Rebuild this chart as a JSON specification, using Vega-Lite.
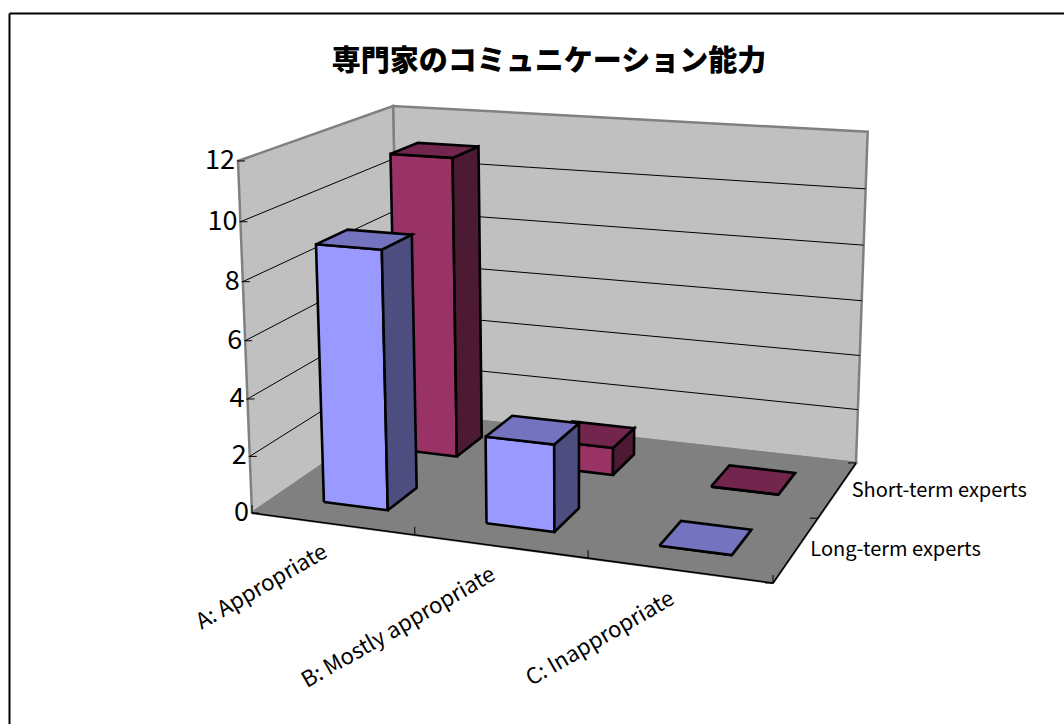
{
  "$schema": "https://vega.github.io/schema/vega-lite/v6.json",
  "width": 1055,
  "height": 711,
  "padding": {"left": 9, "top": 13, "right": 0, "bottom": 0},
  "autosize": {"type": "none"},
  "background": "white",
  "config": {"view": {"stroke": null}},
  "title": {
    "text": "専門家のコミュニケーション能力",
    "font": "Noto Sans CJK JP",
    "fontSize": 29,
    "fontWeight": 900,
    "color": "black",
    "anchor": "middle",
    "offset": -64,
    "dx": 12.5
  },
  "datasets": {
    "bars": [
      {"category": "A: Appropriate", "series": "Short-term experts", "value": 11},
      {"category": "B: Mostly appropriate", "series": "Short-term experts", "value": 1},
      {"category": "C: Inappropriate", "series": "Short-term experts", "value": 0},
      {"category": "A: Appropriate", "series": "Long-term experts", "value": 9},
      {"category": "B: Mostly appropriate", "series": "Long-term experts", "value": 3},
      {"category": "C: Inappropriate", "series": "Long-term experts", "value": 0}
    ],
    "planes": [{"plane": "back"}, {"plane": "left"}, {"plane": "floor"}],
    "valueTicks": [{"tick": 0}, {"tick": 2}, {"tick": 4}, {"tick": 6}, {"tick": 8}, {"tick": 10}, {"tick": 12}],
    "categoryBoundaries": [{"b": 0}, {"b": 1}, {"b": 2}, {"b": 3}],
    "seriesBoundaries": [{"b": 0}, {"b": 1}, {"b": 2}],
    "categories": [
      {"category": "A: Appropriate", "i": 0},
      {"category": "B: Mostly appropriate", "i": 1},
      {"category": "C: Inappropriate", "i": 2}
    ],
    "seriesNames": [
      {"series": "Long-term experts", "i": 0},
      {"series": "Short-term experts", "i": 1}
    ],
    "floorEdge": [
      {"k": 0, "pu": 0, "pt": 0},
      {"k": 1, "pu": 1, "pt": 0},
      {"k": 2, "pu": 1, "pt": 1}
    ]
  },
  "encoding": {
    "x": {
      "field": "sx",
      "type": "quantitative",
      "scale": {"domain": [9, 1064], "nice": false, "zero": false},
      "axis": {"orient": "top", "title": null, "labels": false, "ticks": false, "grid": false, "domainColor": "black", "domainWidth": 2}
    },
    "y": {
      "field": "sy",
      "type": "quantitative",
      "scale": {"domain": [724, 13], "nice": false, "zero": false},
      "axis": {"orient": "left", "title": null, "labels": false, "ticks": false, "grid": false, "domainColor": "black", "domainWidth": 2}
    }
  },
  "resolve": {"scale": {"fill": "independent"}},
  "layer": [
    {
      "data": {"name": "planes"},
      "transform": [
        {"calculate": "[0,1,2,3,4]", "as": "corner"},
        {"flatten": ["corner"]},
        {"calculate": "datum.corner % 4", "as": "k"},
        {"calculate": "datum.plane === 'back' ? ((datum.k === 1 || datum.k === 2) ? 1 : 0) : datum.plane === 'left' ? 0 : ((datum.k === 1 || datum.k === 2) ? 1 : 0)", "as": "pu"},
        {"calculate": "datum.plane === 'back' ? 1 : datum.plane === 'left' ? ((datum.k === 1 || datum.k === 2) ? 1 : 0) : (datum.k >= 2 ? 1 : 0)", "as": "pt"},
        {"calculate": "datum.plane === 'floor' ? 0 : (datum.k >= 2 ? 1 : 0)", "as": "ph"},
        {"calculate": "1 - 0.0912*datum.pu + 0.1579*datum.pt - 0.042*datum.ph", "as": "w"},
        {"calculate": "(252 + 450.5*datum.pu + 210.6*datum.pt - 24*datum.ph) / datum.w", "as": "sx"},
        {"calculate": "(513 + 16.8*datum.pu - 35.95*datum.pt - 358.8*datum.ph) / datum.w", "as": "sy"}
      ],
      "mark": {"type": "line", "stroke": "#808080", "strokeWidth": 2.5, "strokeJoin": "miter", "clip": false},
      "encoding": {
        "detail": {"field": "plane"},
        "order": {"field": "corner", "type": "quantitative"},
        "fill": {
          "field": "plane",
          "type": "nominal",
          "scale": {"domain": ["back", "left", "floor"], "range": ["#C0C0C0", "#C0C0C0", "#808080"]},
          "legend": null
        }
      }
    },
    {
      "data": {"name": "valueTicks"},
      "transform": [
        {"filter": "datum.tick > 0 && datum.tick < 12"},
        {"calculate": "[0,1,2]", "as": "corner"},
        {"flatten": ["corner"]},
        {"calculate": "datum.corner === 2 ? 1 : 0", "as": "pu"},
        {"calculate": "datum.corner === 0 ? 0 : 1", "as": "pt"},
        {"calculate": "datum.tick / 12", "as": "ph"},
        {"calculate": "1 - 0.0912*datum.pu + 0.1579*datum.pt - 0.042*datum.ph", "as": "w"},
        {"calculate": "(252 + 450.5*datum.pu + 210.6*datum.pt - 24*datum.ph) / datum.w", "as": "sx"},
        {"calculate": "(513 + 16.8*datum.pu - 35.95*datum.pt - 358.8*datum.ph) / datum.w", "as": "sy"}
      ],
      "mark": {"type": "line", "stroke": "black", "strokeWidth": 1},
      "encoding": {
        "detail": {"field": "tick"},
        "order": {"field": "corner", "type": "quantitative"}
      }
    },
    {
      "data": {"name": "floorEdge"},
      "transform": [
        {"calculate": "1 - 0.0912*datum.pu + 0.1579*datum.pt", "as": "w"},
        {"calculate": "(252 + 450.5*datum.pu + 210.6*datum.pt) / datum.w", "as": "sx"},
        {"calculate": "(513 + 16.8*datum.pu - 35.95*datum.pt) / datum.w", "as": "sy"}
      ],
      "mark": {"type": "line", "stroke": "black", "strokeWidth": 1.5},
      "encoding": {"order": {"field": "k", "type": "quantitative"}}
    },
    {
      "data": {"name": "bars"},
      "transform": [
        {"calculate": "indexof(['A: Appropriate','B: Mostly appropriate','C: Inappropriate'], datum.category)", "as": "ci"},
        {"calculate": "indexof(['Long-term experts','Short-term experts'], datum.series)", "as": "si"},
        {"calculate": "['front','side','top']", "as": "face"},
        {"flatten": ["face"]},
        {"calculate": "[0,1,2,3,4]", "as": "corner"},
        {"flatten": ["corner"]},
        {"calculate": "datum.corner % 4", "as": "k"},
        {"calculate": "(datum.ci + 0.3) / 3", "as": "u0"},
        {"calculate": "(datum.ci + 0.7) / 3", "as": "u1"},
        {"calculate": "(datum.si + 0.3) / 2", "as": "t0"},
        {"calculate": "(datum.si + 0.7) / 2", "as": "t1"},
        {"calculate": "datum.face === 'side' ? datum.u1 : ((datum.k === 0 || datum.k === 3) ? datum.u0 : datum.u1)", "as": "pu"},
        {"calculate": "datum.face === 'front' ? datum.t0 : datum.face === 'side' ? ((datum.k === 0 || datum.k === 3) ? datum.t0 : datum.t1) : (datum.k < 2 ? datum.t0 : datum.t1)", "as": "pt"},
        {"calculate": "datum.face === 'top' ? datum.value / 12 : (datum.k < 2 ? 0 : datum.value / 12)", "as": "ph"},
        {"calculate": "1 - 0.0912*datum.pu + 0.1579*datum.pt - 0.042*datum.ph", "as": "w"},
        {"calculate": "(252 + 450.5*datum.pu + 210.6*datum.pt - 24*datum.ph) / datum.w", "as": "sx"},
        {"calculate": "(513 + 16.8*datum.pu - 35.95*datum.pt - 358.8*datum.ph) / datum.w", "as": "sy"},
        {"calculate": "datum.series + '|' + datum.face", "as": "shade"},
        {"calculate": "datum.series + '|' + datum.category + '|' + datum.face", "as": "faceId"}
      ],
      "mark": {"type": "line", "stroke": "black", "strokeWidth": 2.6, "strokeJoin": "miter"},
      "encoding": {
        "detail": {"field": "faceId"},
        "order": {"field": "corner", "type": "quantitative"},
        "fill": {
          "field": "shade",
          "type": "nominal",
          "scale": {
            "domain": [
              "Long-term experts|front", "Long-term experts|side", "Long-term experts|top",
              "Short-term experts|front", "Short-term experts|side", "Short-term experts|top"
            ],
            "range": ["#9999FF", "#4D4D80", "#7373BF", "#993366", "#4D1A33", "#73264D"]
          },
          "legend": null
        }
      }
    },
    {
      "data": {"name": "valueTicks"},
      "transform": [
        {"calculate": "datum.tick / 12", "as": "ph"},
        {"calculate": "1 - 0.042*datum.ph", "as": "w"},
        {"calculate": "(252 - 24*datum.ph) / datum.w", "as": "sx"},
        {"calculate": "(513 - 358.8*datum.ph) / datum.w", "as": "sy"}
      ],
      "layer": [
        {
          "mark": {"type": "tick", "orient": "horizontal", "size": 8, "color": "black", "thickness": 1, "xOffset": 3, "opacity": 1}
        },
        {
          "mark": {"type": "text", "align": "right", "baseline": "middle", "font": "Noto Sans CJK JP", "fontSize": 27, "dx": -3, "color": "black"},
          "encoding": {"text": {"field": "tick", "type": "quantitative"}}
        }
      ]
    },
    {
      "data": {"name": "categoryBoundaries"},
      "transform": [
        {"calculate": "datum.b / 3", "as": "pu"},
        {"calculate": "1 - 0.0912*datum.pu", "as": "w"},
        {"calculate": "(252 + 450.5*datum.pu) / datum.w", "as": "sx"},
        {"calculate": "(513 + 16.8*datum.pu) / datum.w", "as": "sy"}
      ],
      "mark": {"type": "tick", "orient": "vertical", "size": 8, "color": "black", "thickness": 1, "yOffset": -4, "opacity": 1}
    },
    {
      "data": {"name": "seriesBoundaries"},
      "transform": [
        {"calculate": "datum.b / 2", "as": "pt"},
        {"calculate": "1 - 0.0912 + 0.1579*datum.pt", "as": "w"},
        {"calculate": "(252 + 450.5 + 210.6*datum.pt) / datum.w", "as": "sx"},
        {"calculate": "(513 + 16.8 - 35.95*datum.pt) / datum.w", "as": "sy"}
      ],
      "mark": {"type": "tick", "orient": "horizontal", "size": 8, "color": "black", "thickness": 1, "xOffset": -4, "opacity": 1}
    },
    {
      "data": {"name": "categories"},
      "transform": [
        {"calculate": "(datum.i + 0.5) / 3", "as": "pu"},
        {"calculate": "1 - 0.0912*datum.pu", "as": "w"},
        {"calculate": "(252 + 450.5*datum.pu) / datum.w", "as": "sx"},
        {"calculate": "(513 + 16.8*datum.pu) / datum.w", "as": "sy"}
      ],
      "mark": {"type": "text", "align": "right", "baseline": "middle", "angle": 330, "font": "Noto Sans CJK JP", "fontSize": 22, "dx": -19, "dy": 19.5, "color": "black"},
      "encoding": {"text": {"field": "category"}}
    },
    {
      "data": {"name": "seriesNames"},
      "transform": [
        {"calculate": "(datum.i + 0.5) / 2", "as": "pt"},
        {"calculate": "1 - 0.0912 + 0.1579*datum.pt", "as": "w"},
        {"calculate": "(252 + 450.5 + 210.6*datum.pt) / datum.w", "as": "sx"},
        {"calculate": "(513 + 16.8 - 35.95*datum.pt) / datum.w", "as": "sy"}
      ],
      "mark": {"type": "text", "align": "left", "baseline": "middle", "font": "Noto Sans CJK JP", "fontSize": 20, "dx": 14, "dy": 1, "color": "black"},
      "encoding": {"text": {"field": "series"}}
    }
  ]
}
